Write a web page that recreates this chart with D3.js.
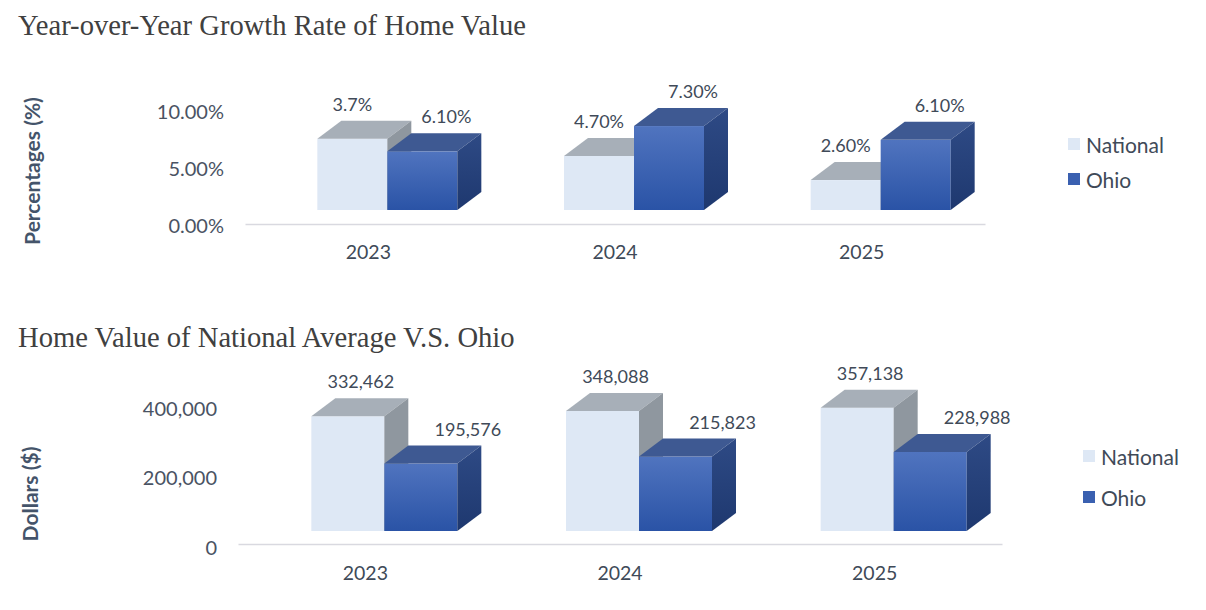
<!DOCTYPE html>
<html>
<head>
<meta charset="utf-8">
<script src="https://cdn.jsdelivr.net/npm/d3@7"></script>
<style>
  html, body { margin: 0; padding: 0; background: #ffffff; }
  svg { display: block; }
</style>
</head>
<body>
<svg id="chart" width="1206" height="610"></svg>
<script>
// ---------------- data ----------------
const years = ["2023", "2024", "2025"];
const seriesNames = ["National", "Ohio"];

// chart 1: growth rate (bar heights as drawn) and the labels printed on the bars
const growthNational = [6.2, 4.7, 2.6];
const growthOhio = [5.1, 7.3, 6.1];
const growthNationalLabels = ["3.7%", "4.70%", "2.60%"];
const growthOhioLabels = ["6.10%", "7.30%", "6.10%"];
const growthTicks = [0, 5, 10];

// chart 2: home values
const valueNational = [332462, 348088, 357138];
const valueOhio = [195576, 215823, 228988];
const valueTicks = [0, 200000, 400000];

// ---------------- drawing ----------------
const svg = d3.select("#chart");
const SANS = "Lato, 'Open Sans', sans-serif";
const SERIF = "'Liberation Serif', 'Times New Roman', serif";
const defs = svg.append("defs");

const ohioFront = defs.append("linearGradient").attr("id", "ohioFront")
  .attr("x1", 0).attr("y1", 0).attr("x2", 0).attr("y2", 1);
ohioFront.append("stop").attr("offset", "0%").attr("stop-color", "#5074BF");
ohioFront.append("stop").attr("offset", "100%").attr("stop-color", "#2A53A6");
const ohioSide = defs.append("linearGradient").attr("id", "ohioSide")
  .attr("x1", 0).attr("y1", 0).attr("x2", 0).attr("y2", 1);
ohioSide.append("stop").attr("offset", "0%").attr("stop-color", "#2E4A85");
ohioSide.append("stop").attr("offset", "100%").attr("stop-color", "#1E386F");

const styles = {
  National: { front: "#DEE8F5", top: "#A7AFB8", side: "#8F979F" },
  Ohio: { front: "url(#ohioFront)", top: "#3E5992", side: "url(#ohioSide)" }
};

function drawChart(cfg) {
  const g = svg.append("g");
  // title
  g.append("text").attr("x", 18).attr("y", cfg.titleY)
    .attr("font-family", SERIF).attr("font-size", 28.6).attr("fill", "#404040")
    .text(cfg.title);
  // y axis label
  g.append("text")
    .attr("transform", `translate(${cfg.yLabelX},${cfg.yLabelY}) rotate(-90)`)
    .attr("text-anchor", "middle").attr("dominant-baseline", "central")
    .attr("font-family", SANS).attr("font-weight", "bold").attr("font-size", 21)
    .attr("fill", "#44546A").text(cfg.yLabel);

  const x = d3.scaleBand().domain(years).range(cfg.xRange).paddingInner(0).paddingOuter(0);
  const yTick = d3.scaleLinear().domain(cfg.tickDomain).range(cfg.tickRange);
  const yBar = d3.scaleLinear().domain(cfg.tickDomain).range(cfg.barRange);

  // tick labels (no axis line/ticks on y)
  const yAxis = d3.axisLeft(yTick).tickValues(cfg.ticks).tickFormat(cfg.tickFormat).tickSize(0).tickPadding(0);
  const ya = g.append("g").attr("transform", `translate(${cfg.tickX},0)`).call(yAxis);
  ya.select(".domain").remove();
  ya.selectAll("text").attr("font-family", SANS).attr("font-size", 20).attr("fill", "#4A5363")
    .attr("dy", "0.35em");

  // baseline + category labels
  const xAxis = d3.axisBottom(x).tickSize(0).tickPadding(0);
  const xa = g.append("g").attr("transform", `translate(0,${cfg.axisY})`).call(xAxis);
  xa.select(".domain").attr("stroke", "#D9D9E0").attr("stroke-width", 1.5);
  xa.selectAll("text").attr("font-family", SANS).attr("font-size", 19.5).attr("fill", "#404A58")
    .attr("y", cfg.catDy).attr("dy", "0.35em");

  const dx = 24, dy = 18;
  const series = [
    { name: "National", values: cfg.national, labels: cfg.nationalLabels, off: 0, lx: cfg.natLabelDx },
    { name: "Ohio", values: cfg.ohio, labels: cfg.ohioLabels, off: 1, lx: cfg.ohioLabelDx }
  ];
  const bw = cfg.barW;
  const floor = yBar(0);
  years.forEach((yr, i) => {
    const cx = x(yr) + x.bandwidth() / 2 + 19;
    series.forEach(s => {
      const x0 = cx - bw + s.off * bw, x1 = x0 + bw;
      const top = yBar(s.values[i]);
      const st = styles[s.name];
      const bg = g.append("g");
      bg.append("rect").attr("x", x0).attr("y", top).attr("width", bw).attr("height", floor - top)
        .attr("fill", st.front);
      bg.append("path").attr("d", `M${x0},${top}L${x0 + dx},${top - dy}L${x1 + dx},${top - dy}L${x1},${top}Z`)
        .attr("fill", st.top);
      bg.append("path").attr("d", `M${x1},${top}L${x1 + dx},${top - dy}L${x1 + dx},${floor - dy}L${x1},${floor}Z`)
        .attr("fill", st.side);
    });
  });
  // labels on top
  years.forEach((yr, i) => {
    const cx = x(yr) + x.bandwidth() / 2 + 19;
    series.forEach(s => {
      const x0 = cx - bw + s.off * bw;
      const top = yBar(s.values[i]);
      g.append("text").attr("x", x0 + bw / 2 + s.lx).attr("y", top + cfg.labelDy)
        .attr("text-anchor", "middle").attr("dominant-baseline", "central")
        .attr("font-family", SANS).attr("font-size", cfg.labelSize).attr("fill", "#404A58")
        .text(s.labels[i]);
    });
  });

  // legend
  seriesNames.forEach((n, k) => {
    const ly = cfg.legendY + k * cfg.legendGap;
    g.append("rect").attr("x", cfg.legendX).attr("y", ly - 6).attr("width", 12).attr("height", 12)
      .attr("fill", n === "National" ? styles.National.front : "#3A60B0");
    g.append("text").attr("x", cfg.legendX + 18).attr("y", ly).attr("dominant-baseline", "central")
      .attr("font-family", SANS).attr("font-size", 21).attr("fill", "#404A58").text(n);
  });
}

drawChart({
  title: "Year-over-Year Growth Rate of Home Value", titleY: 35,
  yLabel: "Percentages (%)", yLabelX: 31, yLabelY: 171,
  xRange: [245, 985], axisY: 224, catDy: 28,
  tickDomain: [0, 10], tickRange: [225, 111], barRange: [210, 95],
  ticks: growthTicks, tickFormat: d => d.toFixed(2) + "%", tickX: 224,
  national: growthNational, ohio: growthOhio,
  nationalLabels: growthNationalLabels, ohioLabels: growthOhioLabels,
  barW: 70, natLabelDx: 0, ohioLabelDx: 24, labelDy: -35, labelSize: 18,
  legendX: 1068, legendY: 144, legendGap: 35
});

drawChart({
  title: "Home Value of National Average V.S. Ohio", titleY: 347,
  yLabel: "Dollars ($)", yLabelX: 29, yLabelY: 494,
  xRange: [238, 1002], axisY: 544, catDy: 29,
  tickDomain: [0, 400000], tickRange: [547, 408], barRange: [531, 393],
  ticks: valueTicks, tickFormat: d3.format(","), tickX: 217,
  national: valueNational, ohio: valueOhio,
  nationalLabels: valueNational.map(d3.format(",")), ohioLabels: valueOhio.map(d3.format(",")),
  barW: 73, natLabelDx: 13, ohioLabelDx: 47, labelDy: -35, labelSize: 18,
  legendX: 1083, legendY: 456, legendGap: 41
});
</script>
</body>
</html>
